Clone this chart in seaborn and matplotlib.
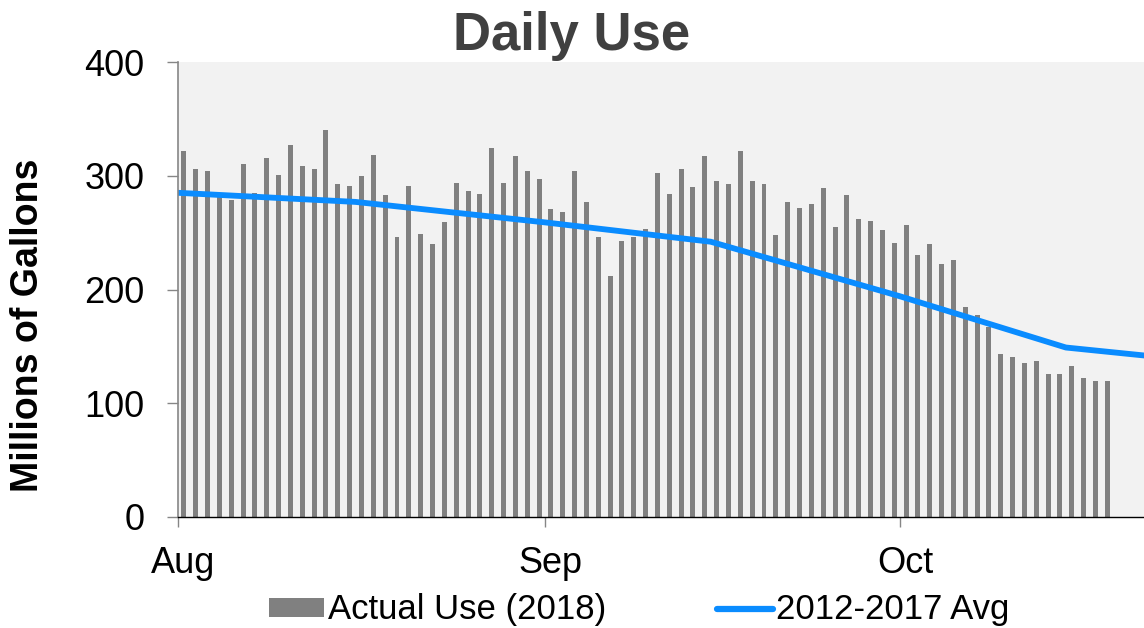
"""
Daily water use: actual 2018 daily bars vs the 2012-2017 average line.
"""
import numpy as np
import pandas as pd
import seaborn as sns
import matplotlib.pyplot as plt
import matplotlib.transforms as mtransforms
from matplotlib.patches import Patch
from matplotlib.lines import Line2D

# Daily actual use (millions of gallons), Aug 1 - Oct 18 2018
actual_start = "2018-08-01"
actual_use = [
    322, 306, 304, 282, 279, 310, 285, 316, 301, 327, 309, 306, 340, 293, 291, 300,
    318, 283, 246, 291, 249, 240, 259, 294, 287, 284, 324, 294, 317, 304, 297,
    271, 268, 304, 277, 246, 212, 243, 246, 253, 302, 284, 306, 290, 317, 295,
    293, 322, 295, 293, 248, 277, 272, 275, 289, 255, 283, 262, 260, 252,
    241, 257, 230, 240, 222, 226, 185, 178, 167, 143, 141, 135, 137, 126, 126, 133,
    122, 120, 120,
]

# 2012-2017 average (semi-monthly points)
avg_dates = ["2018-08-01", "2018-08-16", "2018-09-01", "2018-09-15",
             "2018-10-01", "2018-10-15", "2018-11-01"]
avg_use = [285, 277, 259, 242, 194, 149, 131]

month_ticks = ["2018-08-01", "2018-09-01", "2018-10-01"]
month_labels = ["Aug", "Sep", "Oct"]

BAR_COLOR = "#808080"
LINE_COLOR = "#0a8cff"


def main():
    sns.set_theme(style="white")
    plt.rcParams["font.family"] = ["Liberation Sans", "DejaVu Sans"]

    origin = pd.Timestamp(actual_start)
    dates = pd.date_range(actual_start, periods=len(actual_use), freq="D")
    # bars sit in the middle of their day
    bar_x = (dates - origin).days.values + 0.5
    line_x = (pd.to_datetime(avg_dates) - origin).days.values
    tick_x = (pd.to_datetime(month_ticks) - origin).days.values

    fig = plt.figure(figsize=(11.44, 6.28), dpi=100)
    ax = fig.add_axes([178 / 1144, 1 - 517 / 628, 1 - 178 / 1144, (517 - 62) / 628])
    ax.set_facecolor("#f2f2f2")

    sns.barplot(x=bar_x, y=actual_use, native_scale=True, width=0.42,
                color=BAR_COLOR, saturation=1, errorbar=None, linewidth=0, ax=ax)
    sns.lineplot(x=line_x, y=avg_use, color=LINE_COLOR, linewidth=4.2, ax=ax)

    ax.set_xlim(0, 81.6)
    ax.set_ylim(0, 400)
    ax.set_yticks([0, 100, 200, 300, 400])
    ax.set_xticks(tick_x)
    ax.set_xticklabels(month_labels)
    ax.set_xlabel("")
    ax.set_ylabel("")

    for side in ["top", "right"]:
        ax.spines[side].set_visible(False)
    ax.spines["left"].set_color("#868686")
    ax.spines["left"].set_linewidth(1.2)
    ax.spines["bottom"].set_color("#000000")
    ax.spines["bottom"].set_linewidth(1.0)

    ax.tick_params(axis="y", which="major", direction="out", length=8, width=1,
                   color="#868686", labelsize=26, labelcolor="black", pad=16, left=True)
    ax.tick_params(axis="x", which="major", direction="out", length=7, width=1,
                   color="#868686", labelsize=26, labelcolor="black", pad=14, bottom=True)

    # month labels sit a little right of their tick, like the original
    shift = mtransforms.ScaledTranslation(5 / 100, 0, fig.dpi_scale_trans)
    for lbl in ax.get_xticklabels():
        lbl.set_transform(lbl.get_transform() + shift)

    fig.text(0.5, 1 - 50 / 628, "Daily Use", ha="center", va="baseline",
             fontsize=38, fontweight="bold", color="#404040")
    fig.text(28 / 1144, 1 - 325 / 628, "Millions of Gallons", rotation=90,
             ha="center", va="center", fontsize=27, fontweight="bold", color="#000000")

    handles = [
        Patch(facecolor=BAR_COLOR, edgecolor="none", label="Actual Use (2018)"),
        Line2D([0], [0], color=LINE_COLOR, linewidth=4.5, solid_capstyle="round",
               label="2012-2017 Avg"),
    ]
    fig.legend(handles=handles, loc="center", bbox_to_anchor=(639 / 1144, 1 - 610 / 628),
               ncol=2, frameon=False, fontsize=25, handlelength=1.6, handleheight=0.46,
               handletextpad=0.1, columnspacing=3.2, labelcolor="black")

    fig.savefig("out.png", dpi=100)


if __name__ == "__main__":
    main()
